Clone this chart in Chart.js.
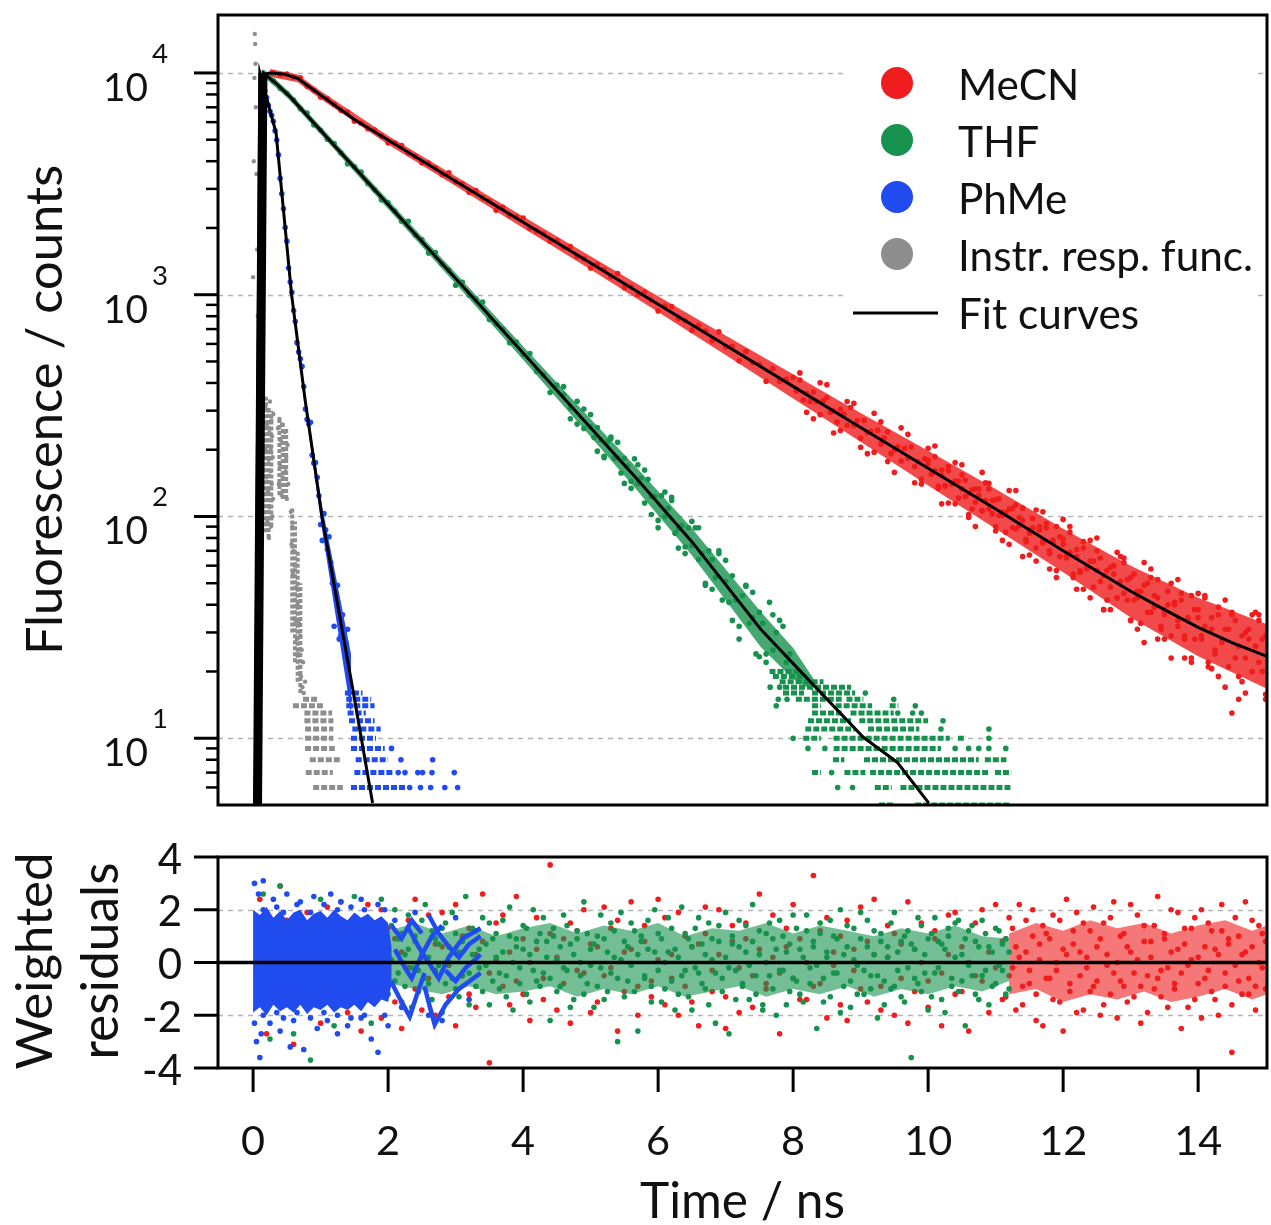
<!DOCTYPE html>
<html>
<head>
<meta charset="utf-8">
<script src="https://cdn.jsdelivr.net/npm/chart.js@4.4.1/dist/chart.umd.min.js"></script>
<style>
  html, body { margin: 0; padding: 0; background: #fff; }
  #wrap { position: relative; width: 1271px; height: 1225px; overflow: hidden; }
  canvas { position: absolute; left: 0; }
  #decay { top: 0; }
  #resid { top: 830px; }
</style>
</head>
<body>
<div id="wrap">
  <canvas id="decay" width="1271" height="830"></canvas>
  <canvas id="resid" width="1271" height="395"></canvas>
</div>
<script>
// Fluorescence decays (MeCN / THF / PhMe) with IRF, fits and weighted residuals

const FAMILY = 'Lato, "Open Sans", sans-serif';
const RED = '#ef1d1d', GREEN = '#17924e', BLUE = '#1f4bef', GRAY = '#8e8e8e';

const xMin = -0.52, xMax = 15.02;
const timeTicks = [0, 2, 4, 6, 8, 10, 12, 14];
const decayMajor = [10, 100, 1000, 10000];
const decayExp = ['1', '2', '3', '4'];
const decayMinor = [6, 7, 8, 9, 20, 30, 40, 50, 60, 70, 80, 90, 200, 300, 400, 500, 600, 700, 800, 900,
  2000, 3000, 4000, 5000, 6000, 7000, 8000, 9000];
const residTicks = [-4, -2, 0, 2, 4];
const residGrid = [-2, 2];
const legendLabels = ['MeCN', 'THF', 'PhMe', 'Instr. resp. func.', 'Fit curves'];
const legendColors = [RED, GREEN, BLUE, GRAY, '#000'];

// fit curves [time ns, counts]
const mecnFit = [[0.11, 5], [0.19, 9900], [0.24, 10000], [0.45, 9900], [0.66, 9450], [1.0, 7950], [1.5, 6170],
  [2.0, 4980], [3.0, 3250], [4.0, 2120], [5.0, 1390], [6.0, 906], [7.0, 592], [8.0, 386], [9.0, 252], [10.0, 165],
  [11.0, 108], [12.0, 70], [13.0, 46], [13.5, 38], [14.0, 31.6], [14.5, 27], [15.02, 23.4]];
const thfFit = [[0.07, 5], [0.15, 10000], [0.35, 8900], [0.55, 7800], [1.26, 4500], [2.0, 2550], [3.22, 1000],
  [4.0, 546], [5.0, 251], [5.69, 147], [6.5, 77], [7.52, 31], [8.3, 17.4], [9.04, 10.1], [9.54, 7.8], [10.01, 5.1]];
const phmeFit = [[0.02, 5], [0.1, 10000], [0.34, 5370], [0.57, 1000], [0.77, 336], [1.02, 100], [1.45, 18.5], [1.77, 5.1]];
const riseFit = [[0.06, 5], [0.13, 10000]];

// dense part of each decay cloud [time ns, upper, lower]
const mecnCore = [[0.25, 10420, 9600], [0.66, 9850, 9070], [1.0, 8290, 7630], [2.0, 5210, 4760], [3.0, 3420, 3090],
  [4.0, 2250, 2000], [5.0, 1490, 1300], [6.0, 985, 835], [7.0, 655, 535], [8.0, 438, 340], [9.0, 293, 217],
  [10.0, 198, 138], [11.0, 133, 88], [12.0, 88, 56], [13.0, 60, 35], [14.0, 43, 23.4], [15.02, 32.7, 16.7]];
const thfCore = [[0.15, 10420, 9600], [0.35, 9270, 8540], [0.55, 8130, 7490], [1.26, 4690, 4320], [2.0, 2670, 2435],
  [3.22, 1059, 944], [4.0, 585, 509], [5.0, 275, 229], [5.69, 165, 131], [6.5, 88.6, 66.9], [7.52, 37.2, 25.8],
  [8.0, 25.5, 18.5], [8.3, 18.6, 16.3]];
const phmeCore = [[0.1, 10400, 9600], [0.34, 5590, 5150], [0.57, 1040, 960], [0.77, 358, 314], [1.02, 112, 88],
  [1.45, 24, 13]];

// measured counts [time ns, counts...]
const mecnData = [[0.3, 10020], [0.4, 9810], [0.5, 9890], [0.6, 9570], [0.7, 9515], [0.8, 8715], [0.9, 8360],
  [1.0, 7780], [1.1, 7655], [1.2, 7230], [1.3, 6780], [1.4, 6665], [1.5, 6060], [1.6, 5928], [1.7, 5598], [1.8, 5526],
  [1.9, 5197], [2.0, 4839], [2.1, 4827], [2.2, 4702], [2.3, 4349], [2.4, 4206], [2.5, 3935], [2.6, 3924], [2.7, 3731],
  [2.8, 3487], [2.9, 3545], [3.0, 3234], [3.1, 3166], [3.2, 2898], [3.3, 2946], [3.4, 2737], [3.5, 2647], [3.6, 2401],
  [3.7, 2476], [3.8, 2282], [3.9, 2248], [4.0, 2215], [4.1, 1988], [4.2, 1940], [4.3, 1889], [4.4, 1743], [4.5, 1756],
  [4.6, 1635], [4.7, 1647], [4.8, 1482], [4.9, 1454], [5.0, 1318], [5.1, 1371], [5.2, 1297], [5.3, 1206], [5.4, 1247],
  [5.5, 1076], [5.6, 1083], [5.7, 1002], [5.8, 1029], [5.9, 944], [6.0, 844], [6.1, 890], [6.2, 885], [6.3, 781],
  [6.4, 765], [6.5, 692], [6.6, 728], [6.7, 686], [6.8, 620], [6.9, 680], [7.0, 582], [7.1, 586], [7.2, 504], [7.3, 555],
  [7.4, 495], [7.5, 485], [7.6, 407], [7.7, 464], [7.8, 407], [7.9, 415], [8.0, 423], [8.05, 368], [8.1, 412], [8.15, 335],
  [8.2, 359], [8.25, 330], [8.3, 364], [8.35, 331], [8.4, 288], [8.45, 332], [8.5, 344], [8.55, 295], [8.6, 299],
  [8.65, 267], [8.7, 304], [8.75, 289], [8.8, 258], [8.85, 310], [8.9, 257], [8.95, 271], [9.0, 225], [9.05, 271],
  [9.1, 239], [9.15, 242], [9.2, 195], [9.25, 245], [9.3, 212], [9.35, 226], [9.4, 241], [9.45, 192], [9.5, 200],
  [9.55, 206], [9.6, 178], [9.65, 203], [9.7, 183], [9.75, 206], [9.8, 168], [9.85, 177], [9.9, 147], [9.95, 182],
  [10.0, 173, 179], [10.05, 155, 156], [10.1, 186, 161], [10.15, 137, 134], [10.2, 153, 162], [10.25, 137, 138],
  [10.3, 161, 168], [10.35, 141, 140], [10.4, 114, 145], [10.45, 144, 121], [10.5, 154, 133], [10.55, 123, 146],
  [10.6, 127, 102], [10.65, 108, 132], [10.7, 133, 116], [10.75, 125, 133], [10.8, 106, 106], [10.85, 142, 118],
  [10.9, 108, 133], [10.95, 118, 103], [11.0, 90, 119], [11.05, 120, 101], [11.1, 101, 105], [11.15, 104, 85],
  [11.2, 75, 108], [11.25, 109, 89], [11.3, 88, 113], [11.35, 99, 91], [11.4, 109, 96], [11.45, 79, 77], [11.5, 84, 87],
  [11.55, 89, 98], [11.6, 72, 63], [11.65, 90, 87], [11.7, 77, 76], [11.75, 93, 89], [11.8, 70, 68], [11.85, 76, 78],
  [11.9, 57, 90], [11.95, 81, 66], [12.0, 75, 79], [12.05, 65, 66], [12.1, 85, 69], [12.15, 55, 53], [12.2, 66, 71],
  [12.25, 56, 57], [12.3, 72, 77], [12.35, 59, 58], [12.4, 43, 63], [12.45, 63, 48], [12.5, 70, 57], [12.55, 51, 65],
  [12.6, 54, 38], [12.65, 42, 57], [12.7, 59, 48], [12.75, 55, 60], [12.8, 43, 43], [12.85, 66, 51], [12.9, 45, 62],
  [12.95, 52, 42], [13.0, 34, 53], [13.05, 55, 42], [13.1, 43, 46], [13.15, 46, 33], [13.2, 27, 49], [13.25, 50, 37],
  [13.3, 37, 53], [13.35, 44, 39], [13.4, 52, 43], [13.45, 32, 31], [13.5, 36, 38], [13.55, 40, 46], [13.6, 29, 23],
  [13.65, 41, 40], [13.7, 34, 32], [13.75, 45, 42], [13.8, 29, 28], [13.85, 34, 35], [13.9, 22, 44], [13.95, 38, 28],
  [14.0, 35, 38], [14.05, 28, 29], [14.1, 43, 32], [14.15, 22, 21], [14.2, 31, 35], [14.25, 24, 25], [14.3, 36, 39],
  [14.35, 28, 27], [14.4, 17, 31], [14.45, 31, 21], [14.5, 36, 13], [14.55, 23, 34], [14.6, 26, 15], [14.65, 18, 29],
  [14.7, 30, 23], [14.75, 28, 31], [14.8, 20, 20], [14.85, 37, 26], [14.9, 22, 34], [14.95, 28, 20], [15.0, 15, 29]];
// outlying MeCN counts on both sides of the cloud
const mecnOuter = [[8.1, 444], [8.2, 295], [8.3, 276], [8.4, 401], [8.5, 393], [8.6, 238], [8.7, 244], [8.8, 330],
  [8.9, 324], [9.0, 205], [9.1, 192], [9.2, 292], [9.3, 267], [9.4, 177], [9.5, 158], [9.6, 251], [9.7, 235], [9.8, 142],
  [9.9, 140], [10.0, 203], [10.1, 208], [10.2, 114], [10.3, 115], [10.4, 175], [10.5, 171], [10.6, 99], [10.7, 90],
  [10.8, 158], [10.9, 141], [11.0, 86], [11.1, 78], [11.2, 131], [11.3, 131], [11.4, 66], [11.5, 67], [11.6, 107],
  [11.7, 105], [11.8, 58], [11.9, 53], [12.0, 97], [12.1, 90], [12.2, 47], [12.3, 47], [12.4, 78], [12.5, 80], [12.6, 38],
  [12.7, 38], [12.8, 69], [12.9, 65], [13.0, 34], [13.1, 31], [13.2, 62], [13.3, 58], [13.4, 28], [13.5, 28], [13.6, 50],
  [13.7, 52], [13.8, 23], [13.9, 23], [14.0, 45], [14.1, 44], [14.2, 20.6], [14.3, 19], [14.4, 42], [14.5, 37], [14.6, 19],
  [14.7, 16], [14.8, 36], [14.9, 36], [15.0, 15.8]];

const thfData = [[0.2, 9820], [0.3, 9210], [0.4, 8520], [0.5, 8100], [0.6, 7550], [0.7, 6890], [0.8, 6590], [0.9, 5830],
  [1.0, 5515], [1.1, 5020], [1.2, 4800], [1.3, 4360], [1.4, 3900], [1.5, 3783], [1.6, 3571], [1.7, 3176], [1.8, 2970],
  [1.9, 2677], [2.0, 2600], [2.1, 2385], [2.2, 2143], [2.3, 2143], [2.4, 1858], [2.5, 1774], [2.6, 1542], [2.7, 1548],
  [2.8, 1373], [2.9, 1291], [3.0, 1103], [3.1, 1137], [3.2, 994], [3.3, 959], [3.4, 926], [3.5, 774], [3.6, 737],
  [3.7, 699], [3.8, 608], [3.9, 612], [4.0, 539], [4.1, 543], [4.2, 451], [4.3, 435], [4.4, 362], [4.5, 391], [4.6, 354],
  [4.7, 308], [4.8, 331], [4.9, 249], [5.0, 254], [5.05, 227], [5.1, 252], [5.15, 222], [5.2, 184], [5.25, 217],
  [5.3, 224], [5.35, 183], [5.4, 184], [5.45, 157], [5.5, 183], [5.55, 169], [5.6, 144], [5.65, 182], [5.7, 141],
  [5.75, 149], [5.8, 115], [5.85, 147], [5.9, 123], [5.95, 123], [6.0, 89], [6.05, 124], [6.1, 100], [6.15, 109],
  [6.2, 118], [6.25, 84], [6.3, 88], [6.35, 91], [6.4, 73], [6.45, 89], [6.5, 74], [6.55, 89], [6.6, 64], [6.65, 68],
  [6.7, 49], [6.75, 70], [6.8, 64], [6.85, 53], [6.9, 70], [6.95, 42], [7.0, 51], [7.05, 41], [7.1, 54], [7.15, 42],
  [7.2, 28], [7.25, 44], [7.3, 49], [7.35, 33], [7.4, 35], [7.45, 24], [7.5, 37], [7.55, 33], [7.6, 24], [7.65, 41],
  [7.7, 25], [7.75, 30], [7.8, 17], [7.85, 32], [7.9, 22], [7.95, 24], [8.0, 10]];
const thfOuter = [[4.6, 385], [4.7, 276], [4.8, 261], [4.9, 305], [5.0, 288], [5.1, 197], [5.2, 187], [5.3, 228],
  [5.4, 216], [5.5, 141], [5.6, 134], [5.7, 171], [5.8, 162], [5.9, 102], [6.0, 96], [6.1, 129], [6.2, 122], [6.3, 72],
  [6.4, 68], [6.5, 95], [6.6, 89], [6.7, 50], [6.8, 47], [6.9, 68], [7.0, 63.5], [7.1, 34], [7.2, 32], [7.3, 48.5],
  [7.4, 45.5], [7.5, 23.3], [7.6, 22], [7.7, 36], [7.8, 34]];
// low-count rows [counts, from ns, to ns] and single low-count points [time ns, counts]
const thfRows = [[5, 9.27, 9.49], [5, 9.81, 11.23], [6, 9.21, 9.46], [6, 9.59, 11.23], [7, 8.28, 8.41], [7, 8.76, 9.07],
  [7, 9.14, 10.9], [7, 10.99, 11.23], [8, 8.59, 8.76], [8, 9.05, 10.75], [8, 10.84, 11.16], [9, 8.6, 10.19],
  [10, 8.15, 8.41], [10, 8.6, 10.32], [10, 10.44, 10.56], [11, 8.18, 8.92], [11, 9.11, 9.87], [12, 8.22, 8.86],
  [12, 8.98, 10.0], [13, 8.28, 8.72], [13, 8.85, 9.49], [14, 8.28, 8.41], [14, 8.63, 9.17], [14, 9.43, 9.56],
  [15, 8.04, 8.72], [15, 8.79, 9.04], [16, 7.85, 8.16], [16, 8.28, 8.92], [17, 7.85, 8.86], [18, 7.8, 8.45],
  [19, 7.7, 8.2], [20, 7.65, 8.1]];
const thfLone = [[8.66, 6], [8.88, 6], [8.57, 7], [8.22, 9], [8.47, 9], [10.4, 9], [10.6, 9], [10.75, 9], [10.9, 9],
  [11.15, 9], [10.9, 10], [10.19, 11], [10.9, 11], [10.22, 12], [9.55, 13], [9.77, 13], [9.9, 13], [7.75, 14],
  [9.81, 14], [7.78, 15], [7.91, 15], [9.49, 15], [9.07, 16], [7.66, 17]];

const phmeData = [[0.15, 8660], [0.175, 8290], [0.2, 7740], [0.225, 7150], [0.25, 6710], [0.275, 6440], [0.3, 6060],
  [0.325, 5480], [0.35, 4980], [0.375, 4270], [0.4, 3345], [0.425, 2850], [0.45, 2440], [0.475, 2010], [0.5, 1744],
  [0.525, 1320], [0.55, 1140], [0.575, 1024], [0.6, 849], [0.625, 757], [0.65, 608], [0.675, 552], [0.7, 514],
  [0.725, 475], [0.75, 385], [0.775, 305], [0.8, 274], [0.825, 261], [0.85, 266], [0.875, 189], [0.9, 174], [0.925, 175],
  [0.95, 150], [0.975, 124], [1.0, 92], [1.025, 78], [1.05, 103], [1.075, 87], [1.1, 71], [1.125, 81], [1.15, 62],
  [1.175, 50], [1.2, 32], [1.225, 45], [1.25, 49], [1.275, 28], [1.3, 29], [1.325, 36], [1.35, 30], [1.375, 27],
  [1.4, 31], [1.425, 16], [1.45, 14]];
const phmeRows = [[6, 1.45, 2.25], [7, 1.5, 2.07], [8, 1.52, 2.0], [9, 1.45, 1.95], [10, 1.45, 1.82], [11, 1.47, 1.89],
  [12, 1.42, 1.8], [13, 1.4, 1.67], [14, 1.38, 1.8], [15, 1.38, 1.75], [16, 1.36, 1.62]];
const phmeLone = [[2.32, 6], [2.48, 6], [2.63, 6], [2.84, 6], [3.03, 6], [2.15, 7], [2.25, 7], [2.44, 7], [2.51, 7],
  [2.65, 7], [2.98, 7], [2.19, 8], [2.66, 8], [2.05, 9]];

const irfData = [[0.0, 1200], [0.01, 4000], [0.02, 9500], [0.025, 15000], [0.03, 13500], [0.035, 11000], [0.04, 7000],
  [0.05, 3500], [0.06, 1600], [0.07, 800], [0.08, 500], [0.1, 400], [0.12, 330], [0.18, 310], [0.185, 200], [0.19, 340],
  [0.2, 150], [0.205, 260], [0.21, 95], [0.215, 220], [0.22, 130], [0.225, 300], [0.23, 180], [0.235, 80], [0.24, 240],
  [0.245, 110], [0.25, 330], [0.255, 160], [0.26, 200], [0.265, 90], [0.27, 270], [0.275, 140], [0.28, 230], [0.285, 100],
  [0.29, 185], [0.295, 120], [0.3, 290], [0.37, 250], [0.38, 140], [0.39, 275], [0.4, 170], [0.41, 220], [0.42, 125],
  [0.43, 260], [0.44, 150], [0.45, 200], [0.46, 130], [0.47, 240], [0.48, 160], [0.49, 185], [0.5, 120], [0.51, 210],
  [0.52, 140], [0.56, 105], [0.57, 75], [0.58, 90], [0.59, 55], [0.6, 70], [0.61, 42], [0.62, 60], [0.63, 34],
  [0.64, 48], [0.65, 28], [0.66, 40], [0.67, 24], [0.68, 33], [0.69, 21], [0.7, 29], [0.71, 19], [0.72, 25], [0.73, 17],
  [0.74, 22], [0.75, 16], [0.77, 18]];
// streaks of IRF counts [time ns, low, high]
const irfCols = [[0.19, 85, 340], [0.23, 80, 310], [0.27, 90, 300], [0.39, 125, 280], [0.44, 120, 265],
  [0.49, 120, 250], [0.58, 30, 110], [0.62, 22, 95], [0.66, 18, 70], [0.7, 16, 50]];
const irfRows = [[6, 0.89, 1.33], [7, 0.78, 1.18], [8, 0.84, 1.29], [9, 0.77, 1.21], [10, 0.77, 1.19], [11, 0.77, 1.19],
  [12, 0.76, 1.19], [13, 0.76, 1.17], [14, 0.59, 1.06], [15, 0.74, 0.96]];

// weighted residuals [time ns, residual...]
const mecnRes = [[0.1, 2.4, -0.6], [0.2, -2.7, 1.1], [0.3, 0.5, -1.3], [0.4, 2.9, 0.2], [0.5, -0.8, 1.6], [0.6, 1.2, -3.1],
  [0.7, -0.4, 0.9], [0.8, 1.9, -1.7], [0.9, 0.3, -0.9], [1.0, -2.3, 1.4], [1.1, 0.7, 2.1], [1.2, -1.1, 0.0],
  [1.3, 2.3, -0.5], [1.4, -1.9, 0.8], [1.5, 0.4, 1.7], [1.6, -2.6, -0.3], [1.7, 1.0, 2.2], [1.8, -1.4, 0.6],
  [1.9, 2.0, -2.1], [2.0, -0.7, 1.3], [2.1, 0.9, -1.5], [2.2, -2.5, 0.4], [2.3, 1.6, -0.2], [2.4, -1.0, 2.4],
  [2.5, 0.2, -1.8], [2.6, 1.8, -0.6], [2.7, -2.0, 0.7], [2.8, 0.6, 1.9], [2.9, -1.3, -0.1], [3.0, 2.2, -2.4],
  [3.1, -0.5, 1.0], [3.2, 1.3, -1.2], [3.3, -1.7, 0.3], [3.4, 0.8, 2.6], [3.5, -3.8, -0.4], [3.6, 1.5, 0.1],
  [3.7, -0.9, 1.8], [3.8, 0.4, -1.6], [3.9, 2.5, -0.7], [4.0, -1.2, 0.9], [4.1, 0.0, -2.2], [4.2, 1.7, 0.5],
  [4.3, -0.6, -1.4], [4.4, 3.7, 1.1], [4.5, -1.8, 0.2], [4.6, 0.9, -0.8], [4.7, -2.3, 1.5], [4.8, 1.2, -0.3],
  [4.9, -0.4, 2.0], [5.0, 0.7, -1.9], [5.1, -1.5, 0.6], [5.2, 2.1, -0.5], [5.3, -0.2, 1.3], [5.4, 1.6, -2.6],
  [5.5, -1.1, 0.4], [5.6, 0.5, 2.3], [5.7, -2.0, -0.9], [5.8, 1.4, 0.8], [5.9, -0.7, -1.3], [6.0, 2.4, 0.1],
  [6.1, -1.6, 1.7], [6.2, 0.3, -0.6], [6.3, 1.9, -2.0], [6.4, -0.9, 1.0], [6.5, 0.6, -1.5], [6.6, -2.4, 0.7],
  [6.7, 1.1, 2.1], [6.8, -0.3, -1.1], [6.9, 2.0, 0.3], [7.0, -1.3, -2.5], [7.1, 0.8, 1.4], [7.2, -1.9, -0.2],
  [7.3, 1.5, 0.9], [7.4, -0.5, -1.7], [7.5, 2.6, 0.5], [7.6, -1.0, -0.8], [7.7, 0.2, 1.8], [7.8, -2.7, -0.4],
  [7.9, 1.3, 0.6], [8.0, -0.6, 2.2], [8.1, 0.9, -1.4], [8.2, -1.4, 0.0], [8.3, 3.3, -0.9], [8.4, -0.8, 1.2],
  [8.5, 1.7, -2.1], [8.6, -0.1, 0.4], [8.7, 1.0, -1.6], [8.8, -2.2, 1.6], [8.9, 0.5, -0.3], [9.0, 2.1, -1.0],
  [9.1, -1.5, 0.8], [9.2, 0.3, 2.4], [9.3, -0.9, -1.8], [9.4, 1.4, 0.2], [9.5, -2.0, 1.1], [9.6, 0.7, -0.6],
  [9.7, 2.3, -2.3], [9.8, -1.1, 0.5], [9.9, 0.0, 1.5], [10.0, -1.7, -0.7], [10.1, 1.2, 0.9], [10.2, -0.4, -2.4],
  [10.3, 1.8, 0.3], [10.4, -1.2, 1.9], [10.5, 0.6, -1.1], [10.6, -2.6, 0.0], [10.7, 1.5, -0.5], [10.8, -0.7, 2.0],
  [10.9, 0.4, -1.9], [11.0, 2.2, -0.2], [11.1, -1.4, 0.8], [11.15, 0.9, -1.3], [11.2, -0.5, 1.7], [11.25, 1.3, -0.2],
  [11.3, -1.8, 0.6], [11.35, 0.2, 2.2], [11.4, -0.9, -1.6], [11.45, 1.6, 0.4], [11.5, -0.3, -0.8], [11.55, 2.0, 1.0],
  [11.6, -1.2, -2.2], [11.65, 0.7, 0.1], [11.7, -2.4, 1.4], [11.75, 1.1, -0.6], [11.8, -0.6, 0.9], [11.85, 1.8, -1.4],
  [11.9, 0.0, -0.3], [11.95, -1.5, 1.6], [12.0, 0.5, -2.6], [12.05, 2.4, 0.3], [12.1, -0.8, -1.1], [12.15, 1.2, 0.7],
  [12.2, -1.9, 1.9], [12.25, 0.4, -0.5], [12.3, 1.5, -1.8], [12.35, -0.2, 0.2], [12.4, -1.1, 1.2], [12.45, 2.1, -0.9],
  [12.5, -0.7, 0.6], [12.55, 0.9, -2.0], [12.6, -1.6, 1.5], [12.65, 0.3, -0.1], [12.7, 1.7, -1.2], [12.75, -0.4, 2.3],
  [12.8, -2.1, 0.0], [12.85, 1.0, -0.7], [12.9, -0.9, 1.1], [12.95, 0.6, -1.5], [13.0, 2.2, 0.4], [13.05, -1.3, -0.4],
  [13.1, 0.1, 1.8], [13.15, -2.3, -0.9], [13.2, 1.4, 0.8], [13.25, -0.5, -1.9], [13.3, 0.8, 0.2], [13.35, -1.0, 1.4],
  [13.4, 2.5, -0.6], [13.45, -0.3, -1.3], [13.5, 1.1, 0.9], [13.55, -1.7, -0.2], [13.6, 0.4, 2.0], [13.65, -0.8, -1.0],
  [13.7, 1.9, 0.5], [13.75, -2.5, -0.4], [13.8, 0.7, 1.3], [13.85, -0.1, -1.7], [13.9, 1.3, 0.1], [13.95, -1.4, 1.7],
  [14.0, 0.2, -0.8], [14.05, 2.0, -2.1], [14.1, -0.6, 0.6], [14.15, 1.5, -0.3], [14.2, -1.1, 1.2], [14.25, 0.5, -1.4],
  [14.3, -2.0, 0.3], [14.35, 1.2, 2.2], [14.4, -0.4, -0.9], [14.45, 0.9, 0.7], [14.5, -1.6, -3.4], [14.55, 1.7, -0.1],
  [14.6, -0.7, 1.0], [14.65, 0.3, -1.2], [14.7, 2.3, 0.4], [14.75, -1.2, -0.6], [14.8, 0.6, 1.6], [14.85, -0.9, -1.8],
  [14.9, 1.4, 0.0], [14.95, -0.2, 1.1], [15.0, 0.8, -1.0]];

const thfRes = [[0.15, 2.6], [0.25, -2.9], [0.4, 2.9], [0.6, -2.7], [0.85, -3.7], [1.0, 2.4], [1.2, -2.4], [1.5, 2.5],
  [1.75, -2.3], [1.9, 2.4], [2.0, 0.6, -1.2], [2.05, 1.4, 0.1], [2.1, -0.7, 2.0], [2.15, 0.9, -0.4], [2.2, -1.5, 1.1],
  [2.25, 0.3, -0.9], [2.3, 1.8, 0.5], [2.35, -0.2, -1.7], [2.4, 1.0, 0.8], [2.45, -1.1, -0.3], [2.5, 0.4, 1.6],
  [2.55, 2.2, -0.6], [2.6, -0.8, 0.2], [2.65, 1.2, -1.4], [2.7, -0.3, 0.9], [2.75, 0.7, -0.1], [2.8, -1.9, 1.3],
  [2.85, 1.5, -0.8], [2.9, 0.0, 0.6], [2.95, -0.6, 1.9], [3.0, 1.1, -1.0], [3.05, -1.3, 0.4], [3.1, 0.8, -0.5],
  [3.15, 2.5, 1.0], [3.2, -0.4, -1.6], [3.25, 1.3, 0.3], [3.3, -0.9, 1.2], [3.35, 0.5, -0.2], [3.4, 1.7, -1.1],
  [3.45, -0.1, 0.7], [3.5, -1.6, 1.5], [3.55, 0.9, -0.7], [3.6, 0.2, 1.1], [3.65, -1.0, -0.4], [3.7, 1.6, 0.4],
  [3.75, -0.5, -1.3], [3.8, 1.0, 2.1], [3.85, -1.8, 0.0], [3.9, 0.6, 0.9], [3.95, -0.2, -0.8], [4.0, 1.4, 0.5],
  [4.05, -1.2, 1.3], [4.1, 0.3, -1.5], [4.15, 2.0, -0.3], [4.2, -0.7, 0.8], [4.25, 1.1, -0.9], [4.3, -0.4, 1.7],
  [4.35, 0.8, 0.2], [4.4, -2.2, -0.6], [4.45, 1.3, 1.0], [4.5, 0.1, -1.1], [4.55, -0.9, 0.6], [4.6, 1.8, -0.2],
  [4.65, -0.3, 1.4], [4.7, 0.7, -1.7], [4.75, -1.4, 0.3], [4.8, 1.2, 0.9], [4.85, 0.0, -0.5], [4.9, 2.3, -1.2],
  [4.95, -0.8, 1.1], [5.0, 0.5, -0.1], [5.05, -1.7, 0.7], [5.1, 1.0, -0.9], [5.15, -0.2, 1.8], [5.2, 0.9, -1.4],
  [5.25, -1.1, 0.4], [5.3, 1.5, -0.4], [5.35, 0.2, 1.2], [5.4, -0.6, -3.0], [5.45, 1.9, 0.1], [5.5, -1.3, 0.8],
  [5.55, 0.6, -0.7], [5.6, -0.1, 1.5], [5.65, 1.2, -1.1], [5.7, -2.6, 0.3], [5.75, 0.8, 1.0], [5.8, -0.5, -0.6],
  [5.85, 1.6, 0.5], [5.9, -0.9, -1.5], [5.95, 0.4, 2.0], [6.0, 1.1, -0.3], [6.05, -1.5, 0.9], [6.1, 0.0, -1.0],
  [6.15, 1.7, 0.4], [6.2, -0.7, 1.3], [6.25, 0.5, -1.8], [6.3, -1.2, 0.2], [6.35, 2.1, -0.5], [6.4, -0.3, 1.1],
  [6.45, 0.9, -1.3], [6.5, -1.8, 0.6], [6.55, 1.3, -0.2], [6.6, -0.4, 1.7], [6.65, 0.7, -0.8], [6.7, -1.0, 0.3],
  [6.75, 1.5, -1.6], [6.8, 0.1, 0.9], [6.85, -2.3, -0.4], [6.9, 0.8, 1.4], [6.95, -0.6, -1.1], [7.0, 1.9, 0.2],
  [7.05, -0.2, -2.7], [7.1, 1.0, 0.7], [7.15, -1.4, -0.3], [7.2, 0.6, 1.6], [7.25, -0.8, -0.9], [7.3, 1.4, 0.4],
  [7.35, -0.1, -1.4], [7.4, 2.2, 0.8], [7.45, -1.2, -0.5], [7.5, 0.3, 1.2], [7.55, -1.6, -1.8], [7.6, 1.1, 0.0],
  [7.65, -0.5, 1.5], [7.7, 0.9, -1.0], [7.75, -2.0, 0.5], [7.8, 1.6, -0.3], [7.85, -0.3, 1.0], [7.9, 0.4, -1.6],
  [7.95, -1.1, 0.7], [8.0, 1.8, -0.6], [8.05, -0.7, 1.3], [8.1, 0.5, -1.2], [8.15, -1.5, 0.2], [8.2, 1.2, 1.8],
  [8.25, -0.2, -0.8], [8.3, 0.8, 0.6], [8.35, -2.5, -0.1], [8.4, 1.5, 1.1], [8.45, -0.6, -1.5], [8.5, 0.2, 0.4],
  [8.55, -1.3, 1.6], [8.6, 1.0, -0.4], [8.65, -0.4, 0.9], [8.7, 2.0, -1.9], [8.75, -0.9, 0.3], [8.8, 0.6, 1.4],
  [8.85, -1.7, -0.7], [8.9, 1.3, 0.1], [8.95, -0.1, -1.2], [9.0, 0.9, 1.9], [9.05, -1.2, -0.3], [9.1, 1.6, 0.6],
  [9.15, -0.5, -1.0], [9.2, 0.3, 1.2], [9.25, -2.1, -0.5], [9.3, 1.1, 0.8], [9.35, -0.7, -1.6], [9.4, 0.6, 0.2],
  [9.45, -1.0, 1.5], [9.5, 1.9, -0.9], [9.55, -0.3, 0.4], [9.6, 0.8, -1.3], [9.65, -1.5, 1.0], [9.7, 1.2, -0.2],
  [9.75, -3.6, 0.7], [9.8, 0.5, -0.6], [9.85, -0.8, 1.7], [9.9, 1.4, -1.1], [9.95, -0.4, 0.3], [10.0, 0.9, -1.8],
  [10.05, -1.3, 1.1], [10.1, 1.7, -0.4], [10.15, -0.2, 0.8], [10.2, 0.7, -1.4], [10.25, -1.9, 0.5], [10.3, 1.0, 1.3],
  [10.35, -0.6, -0.9], [10.4, 1.5, 0.2], [10.45, -1.1, 1.6], [10.5, 0.3, -0.7], [10.55, -2.4, 0.9], [10.6, 1.2, -0.1],
  [10.65, -0.5, 1.4], [10.7, 0.8, -1.2], [10.75, -1.4, 0.6], [10.8, 1.6, -0.5], [10.85, -0.3, 1.1], [10.9, 0.6, -1.6],
  [10.95, -0.9, 0.4], [11.0, 1.3, -0.8], [11.05, -0.1, 1.2], [11.1, 0.7, -0.3], [11.15, -1.2, 0.9], [11.2, 0.4, -1.0]];

// outlines of the dense residual clouds [time ns, residual], upper edge then lower edge
const phmeResCore = [[0.0, 2.0], [0.1, 1.8], [0.2, 2.1], [0.3, 1.7], [0.4, 1.95], [0.5, 1.6], [0.6, 1.9], [0.7, 2.0],
  [0.8, 1.6], [0.9, 1.85], [1.0, 1.95], [1.1, 1.7], [1.2, 2.0], [1.3, 1.75], [1.4, 1.6], [1.5, 1.9], [1.6, 1.7],
  [1.7, 1.85], [1.8, 1.6], [1.9, 1.75], [2.0, 1.5], [2.05, 0.6], [2.05, -0.8], [2.0, -1.5], [1.9, -1.4], [1.8, -1.7],
  [1.7, -1.5], [1.6, -1.85], [1.5, -1.6], [1.4, -1.8], [1.3, -1.7], [1.2, -1.9], [1.1, -1.6], [1.0, -1.8],
  [0.9, -1.7], [0.8, -1.95], [0.7, -1.6], [0.6, -1.9], [0.5, -1.7], [0.4, -1.85], [0.3, -1.6], [0.2, -2.0],
  [0.1, -1.7], [0.0, -1.9]];
const thfResCore = [[2.0, 1.2], [2.4, 1.5], [2.8, 1.1], [3.2, 1.4], [3.6, 1.0], [4.0, 1.3], [4.4, 1.5], [4.8, 1.1],
  [5.2, 1.4], [5.6, 1.2], [6.0, 1.5], [6.4, 1.0], [6.8, 1.3], [7.2, 1.2], [7.6, 1.5], [8.0, 1.1], [8.4, 1.4], [8.8, 1.2],
  [9.2, 1.0], [9.6, 1.3], [10.0, 1.1], [10.4, 1.4], [10.8, 1.0], [11.2, 0.9], [11.2, -0.7], [10.8, -1.1], [10.4, -0.9],
  [10.0, -1.2], [9.6, -1.0], [9.2, -1.3], [8.8, -0.9], [8.4, -1.2], [8.0, -1.0], [7.6, -1.3], [7.2, -0.9], [6.8, -1.1],
  [6.4, -1.3], [6.0, -0.9], [5.6, -1.2], [5.2, -1.0], [4.8, -1.3], [4.4, -0.9], [4.0, -1.1], [3.6, -1.2], [3.2, -0.9],
  [2.8, -1.2], [2.4, -1.0], [2.0, -0.8]];
const mecnResCore = [[11.2, 1.1], [11.6, 1.5], [12.0, 1.2], [12.4, 1.6], [12.8, 1.3], [13.2, 1.5], [13.6, 1.1],
  [14.0, 1.4], [14.4, 1.6], [14.8, 1.2], [15.02, 1.4], [15.02, -1.2], [14.8, -1.4], [14.4, -1.0], [14.0, -1.3],
  [13.6, -1.5], [13.2, -1.1], [12.8, -1.4], [12.4, -1.2], [12.0, -1.5], [11.6, -1.0], [11.2, -1.2]];

const phmeRes = [[0.02, 3.0, -2.3], [0.05, -3.0], [0.08, 2.6], [0.1, -3.6], [0.12, -2.7], [0.15, 3.1, 2.0, -2.0],
  [0.25, -2.3], [0.3, 2.4], [0.35, 2.1, -1.9], [0.4, -2.6], [0.45, 1.9, -2.1], [0.5, 2.6], [0.55, -3.2], [0.6, -2.2],
  [0.65, 2.2, -1.9], [0.7, 2.3], [0.75, -3.3], [0.85, 1.9, -2.1], [0.9, 2.5], [0.95, -2.5], [1.05, 2.2, -1.9],
  [1.1, -2.2], [1.15, 2.6], [1.25, 2.0, -2.0, -2.7], [1.3, 2.3], [1.4, -2.4], [1.45, 2.1, -2.1], [1.6, 2.4, -2.1],
  [1.65, 2.0, -2.0], [1.75, -2.9], [1.85, 2.2, -3.4], [1.95, 2.0, -2.0], [2.0, -2.4], [2.1, 1.6], [2.2, -1.7],
  [2.4, 1.9], [2.6, -2.0], [2.8, -2.2], [3.0, 1.7], [3.2, -1.4]];
const phmeArcs = [
  [[2.04, -0.7], [2.18, -1.4], [2.32, -2.05], [2.43, -1.2], [2.54, -0.4]],
  [[2.54, -0.9], [2.62, -1.7], [2.69, -2.35], [2.85, -1.6], [3.05, -1.0], [3.37, -0.4]],
  [[2.1, 0.5], [2.25, -0.2], [2.35, -0.6], [2.5, 0.3], [2.65, 1.0], [2.8, 1.4]],
  [[2.3, 1.3], [2.45, 0.6], [2.6, 0.0], [2.75, -0.6], [2.9, 0.2], [3.1, 0.9], [3.37, 1.3]],
  [[2.6, 1.8], [2.75, 1.1], [2.9, 0.6], [3.05, 0.2], [3.2, 0.7], [3.37, 1.0]],
  [[2.05, 1.4], [2.2, 0.9], [2.35, 1.6], [2.5, 1.1]],
  [[2.85, -0.3], [3.0, -0.7], [3.15, -0.2], [3.37, 0.3]]
];

Chart.defaults.font.family = FAMILY;
Chart.defaults.animation = false;

const pts = arr => arr.flatMap(([x, ...vals]) => vals.map(y => ({ x, y })));
const rowLines = arr => arr.flatMap(([c, t1, t2]) => [{ x: t1, y: c }, { x: t2, y: c }, { x: t2, y: null }]);
const colLines = arr => arr.flatMap(([t, lo, hi]) => [{ x: t, y: lo }, { x: t, y: hi }, { x: t, y: null }]);
const band = arr => [...arr.map(([x, hi]) => ({ x, y: hi })), ...arr.slice().reverse().map(([x, , lo]) => ({ x, y: lo }))];

function fitFont(ctx, text, width) {
  ctx.font = '100px ' + FAMILY;
  return (100 * width / ctx.measureText(text).width).toFixed(1) + 'px ' + FAMILY;
}

function scatterSet(data, color, order, r) {
  return { type: 'scatter', data, order, pointRadius: r || 2.8, pointBorderWidth: 0,
    pointBackgroundColor: color, backgroundColor: color, borderColor: color };
}

function lineSet(data, color, width, order, extra) {
  return Object.assign({ type: 'line', data, order, borderColor: color, borderWidth: width,
    pointRadius: 0, tension: 0, fill: false, spanGaps: false }, extra || {});
}

function shapeSet(data, color, order) {
  return lineSet(data, 'rgba(0,0,0,0)', 0, order, { fill: 'shape', backgroundColor: color });
}

function hline(ctx, x1, x2, y) {
  ctx.beginPath(); ctx.moveTo(x1, y); ctx.lineTo(x2, y); ctx.stroke();
}
function vline(ctx, x, y1, y2) {
  ctx.beginPath(); ctx.moveTo(x, y1); ctx.lineTo(x, y2); ctx.stroke();
}

function rotatedText(ctx, text, x, y, width) {
  ctx.save();
  ctx.translate(x, y);
  ctx.rotate(-Math.PI / 2);
  ctx.font = fitFont(ctx, text, width);
  ctx.textAlign = 'center';
  ctx.textBaseline = 'alphabetic';
  ctx.fillText(text, 0, 0);
  ctx.restore();
}

const rowStyle = { borderDash: [6, 2] };

const decayDecor = {
  id: 'decayDecor',
  beforeDatasetsDraw(chart) {
    const { ctx, chartArea: a, scales: { y } } = chart;
    ctx.save();
    ctx.strokeStyle = '#b4b4b4';
    ctx.lineWidth = 1.5;
    ctx.setLineDash([5, 5]);
    decayMajor.forEach(v => hline(ctx, a.left, a.right, Math.round(y.getPixelForValue(v)) + 0.5));
    ctx.restore();
  },
  afterDatasetsDraw(chart) {
    const { ctx, chartArea: a, scales: { y } } = chart;
    ctx.save();

    // legend
    ctx.fillStyle = '#fff';
    ctx.fillRect(845, 44, 412, 298);
    const rowsY = [86, 143, 200, 257, 315];
    ctx.font = fitFont(ctx, legendLabels[3], 295);
    legendLabels.forEach((lab, i) => {
      const cy = rowsY[i];
      if (i < 4) {
        ctx.fillStyle = legendColors[i];
        ctx.beginPath(); ctx.arc(897, cy - 3, 16, 0, Math.PI * 2); ctx.fill();
      } else {
        ctx.strokeStyle = '#000'; ctx.lineWidth = 3;
        hline(ctx, 853, 938, cy - 2);
      }
      ctx.fillStyle = '#111';
      ctx.textAlign = 'left';
      ctx.textBaseline = 'middle';
      ctx.fillText(lab, 958, cy);
    });

    // frame
    ctx.strokeStyle = '#000';
    ctx.lineWidth = 3;
    ctx.strokeRect(a.left, a.top, a.right - a.left, a.bottom - a.top);

    // ticks
    decayMajor.forEach(v => hline(ctx, a.left - 24, a.left, y.getPixelForValue(v)));
    ctx.lineWidth = 2.5;
    decayMinor.forEach(v => hline(ctx, a.left - 12, a.left, y.getPixelForValue(v)));

    // tick labels 10^n
    ctx.fillStyle = '#111';
    const baseFont = fitFont(ctx, '10', 45);
    const expFont = fitFont(ctx, '4', 16);
    decayMajor.forEach((v, i) => {
      const py = y.getPixelForValue(v);
      ctx.font = baseFont; ctx.textAlign = 'right'; ctx.textBaseline = 'alphabetic';
      ctx.fillText('10', 148, py + 28);
      ctx.font = expFont; ctx.textAlign = 'left';
      ctx.fillText(decayExp[i], 152, py - 10);
    });

    rotatedText(ctx, 'Fluorescence / counts', 62, 410, 490);
    ctx.restore();
  }
};

const residDecor = {
  id: 'residDecor',
  beforeDatasetsDraw(chart) {
    const { ctx, chartArea: a, scales: { y } } = chart;
    ctx.save();
    ctx.strokeStyle = '#b4b4b4';
    ctx.lineWidth = 1.5;
    ctx.setLineDash([5, 5]);
    residGrid.forEach(v => hline(ctx, a.left, a.right, Math.round(y.getPixelForValue(v)) + 0.5));
    ctx.restore();
  },
  afterDatasetsDraw(chart) {
    const { ctx, chartArea: a, scales: { x, y } } = chart;
    ctx.save();
    ctx.strokeStyle = '#000';
    ctx.lineWidth = 3;
    ctx.strokeRect(a.left, a.top, a.right - a.left, a.bottom - a.top);

    ctx.fillStyle = '#111';
    ctx.font = fitFont(ctx, '-4', 40);
    ctx.textAlign = 'right';
    ctx.textBaseline = 'middle';
    residTicks.forEach(v => {
      const py = y.getPixelForValue(v);
      hline(ctx, a.left - 24, a.left, py);
      ctx.fillText(String(v), 182, py + 3);
    });

    ctx.font = fitFont(ctx, '10', 48);
    ctx.textAlign = 'center';
    ctx.textBaseline = 'alphabetic';
    timeTicks.forEach(v => {
      const px = x.getPixelForValue(v);
      vline(ctx, px, a.bottom, a.bottom + 24);
      ctx.fillText(String(v), px, 325);
    });

    ctx.font = fitFont(ctx, 'Time / ns', 205);
    ctx.fillText('Time / ns', (a.left + a.right) / 2, 388);

    rotatedText(ctx, 'Weighted', 52, 131, 217);
    rotatedText(ctx, 'residuals', 118, 131, 197);
    ctx.restore();
  }
};

new Chart(document.getElementById('decay'), {
  type: 'scatter',
  data: {
    datasets: [
      lineSet(pts(mecnFit), '#000', 3, 0),
      lineSet(pts(thfFit), '#000', 3, 0),
      lineSet(pts(phmeFit), '#000', 3, 0),
      lineSet(pts(riseFit), '#000', 7, 0),
      shapeSet(band(phmeCore), BLUE, 2),
      scatterSet(pts(phmeData), BLUE, 2),
      scatterSet(pts(phmeLone), BLUE, 2),
      lineSet(rowLines(phmeRows), BLUE, 5, 2, rowStyle),
      shapeSet(band(thfCore), 'rgba(23,146,78,0.8)', 3),
      scatterSet(pts(thfData), GREEN, 3),
      scatterSet(pts(thfOuter), GREEN, 3),
      scatterSet(pts(thfLone), GREEN, 3),
      lineSet(rowLines(thfRows), GREEN, 5, 3, rowStyle),
      shapeSet(band(mecnCore), 'rgba(239,29,29,0.8)', 4),
      scatterSet(pts(mecnData), RED, 4),
      scatterSet(pts(mecnOuter), RED, 4),
      scatterSet(pts(irfData), GRAY, 5, 2.2),
      lineSet(colLines(irfCols), GRAY, 4, 5, { borderDash: [4, 2] }),
      lineSet(rowLines(irfRows), GRAY, 5, 5, rowStyle)
    ]
  },
  options: {
    responsive: false,
    devicePixelRatio: 1,
    layout: { padding: { left: 218, right: 3, top: 15, bottom: 25 } },
    plugins: { legend: { display: false }, tooltip: { enabled: false } },
    scales: {
      x: { type: 'linear', min: xMin, max: xMax, display: false },
      y: { type: 'logarithmic', min: 5, max: 18250, display: false }
    }
  },
  plugins: [decayDecor]
});

new Chart(document.getElementById('resid'), {
  type: 'scatter',
  data: {
    datasets: [
      lineSet([{ x: xMin, y: 0 }, { x: xMax, y: 0 }], '#000', 3.5, 0),
      shapeSet(pts(phmeResCore), BLUE, 2),
      scatterSet(pts(phmeRes), BLUE, 1),
      ...phmeArcs.map(arc => lineSet(pts(arc), BLUE, 4.5, 1)),
      scatterSet(pts(thfRes), GREEN, 3),
      shapeSet(pts(thfResCore), 'rgba(23,146,78,0.6)', 3),
      scatterSet(pts(mecnRes), RED, 4),
      shapeSet(pts(mecnResCore), 'rgba(239,29,29,0.6)', 4)
    ]
  },
  options: {
    responsive: false,
    devicePixelRatio: 1,
    layout: { padding: { left: 218, right: 3, top: 27, bottom: 157 } },
    plugins: { legend: { display: false }, tooltip: { enabled: false } },
    scales: {
      x: { type: 'linear', min: xMin, max: xMax, display: false },
      y: { type: 'linear', min: -4, max: 4, display: false }
    }
  },
  plugins: [residDecor]
});
</script>
</body>
</html>
